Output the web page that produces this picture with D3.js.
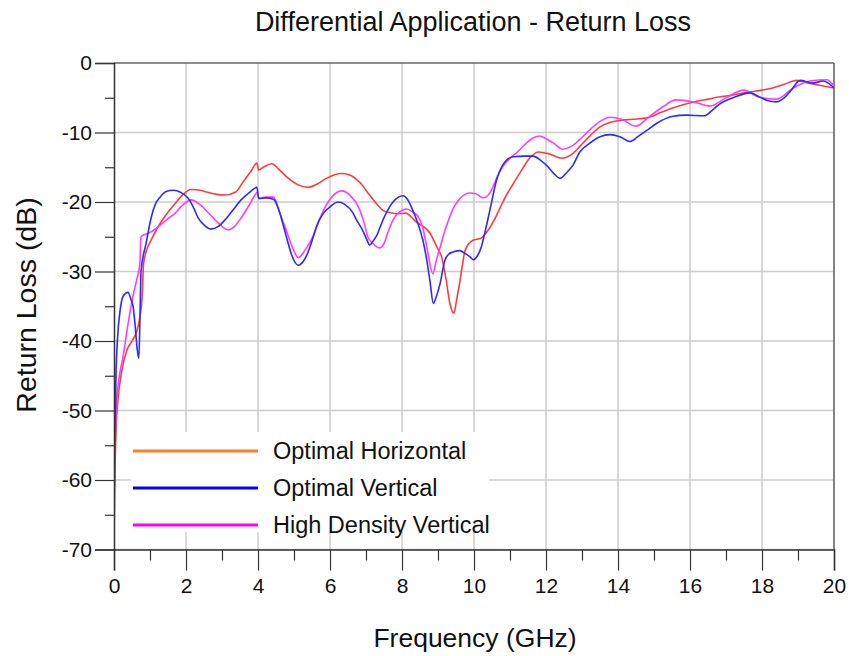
<!DOCTYPE html>
<html>
<head>
<meta charset="utf-8">
<script src="https://cdn.jsdelivr.net/npm/d3@7"></script>
<style>
  body { margin: 0; background: #fff; }
  svg { font-family: "Liberation Sans", Arial, sans-serif; }
</style>
</head>
<body>
<script>
const width = 849, height = 656;

// series: [frequency GHz, return loss dB]
const optimalHorizontal = [[0,-68.4],[0.03,-58],[0.06,-52.4],[0.11,-48.5],[0.22,-44.2],[0.36,-41.3],[0.5,-40],[0.64,-38.5],[0.72,-36.5],[0.78,-33.8],[0.82,-29],[0.89,-27.2],[1.03,-25.5],[1.22,-23.6],[1.45,-21.8],[1.7,-20.2],[1.9,-19],[2.14,-18.2],[2.4,-18.3],[2.6,-18.6],[2.85,-18.9],[3.08,-19],[3.37,-18.6],[3.6,-17],[3.8,-15.6],[3.97,-14.4],[4.02,-15.4],[4.15,-15],[4.38,-14.5],[4.6,-15.4],[4.8,-16.4],[5.1,-17.5],[5.4,-17.9],[5.65,-17.4],[5.9,-16.6],[6.3,-15.9],[6.55,-16.1],[6.83,-17.2],[7.1,-19],[7.3,-20.3],[7.47,-21.2],[7.65,-21.5],[7.85,-21.7],[8.1,-21.6],[8.4,-22.9],[8.78,-24.5],[8.97,-26.5],[9.1,-27.9],[9.22,-31],[9.33,-34.6],[9.44,-36],[9.52,-34],[9.6,-31.7],[9.68,-29],[9.75,-27],[9.97,-25.5],[10.2,-25.2],[10.4,-24],[10.6,-22.2],[10.85,-19.5],[11.1,-17.3],[11.35,-15.2],[11.56,-13.6],[11.8,-12.8],[12.1,-13.1],[12.44,-13.7],[12.75,-13],[12.94,-12],[13.2,-10.6],[13.5,-9.2],[13.75,-8.6],[14,-8.3],[14.4,-8.1],[14.8,-7.9],[15.2,-7.1],[15.5,-6.5],[16.1,-5.6],[16.5,-5.2],[16.8,-4.9],[17.2,-4.6],[17.6,-4.2],[18,-3.9],[18.3,-3.6],[18.6,-3.1],[18.97,-2.5],[19.3,-2.9],[19.7,-3.3],[20,-3.6]];

const optimalVertical = [[0,-64],[0.03,-52],[0.06,-44],[0.1,-39.5],[0.17,-35.6],[0.25,-33.6],[0.39,-33],[0.47,-34],[0.53,-35],[0.6,-38.5],[0.64,-41],[0.69,-42.5],[0.72,-37],[0.75,-30],[0.89,-26],[1.03,-22.3],[1.15,-20.3],[1.28,-19.3],[1.45,-18.5],[1.64,-18.3],[1.85,-18.6],[2.05,-19.4],[2.2,-20.7],[2.33,-22.2],[2.5,-23.3],[2.69,-23.9],[2.9,-23.5],[3.08,-22.6],[3.3,-21.2],[3.53,-19.7],[3.75,-18.7],[3.97,-17.9],[4.02,-19.5],[4.2,-19.4],[4.43,-19.6],[4.57,-21],[4.7,-23.3],[4.82,-25.6],[4.94,-27.7],[5.12,-29.1],[5.25,-28.6],[5.36,-27.6],[5.5,-25.6],[5.64,-23.3],[5.82,-21.6],[6,-20.7],[6.22,-20],[6.4,-20.3],[6.64,-21.6],[6.74,-22.6],[6.9,-24],[7.03,-25.5],[7.1,-26.2],[7.2,-25.6],[7.3,-24.8],[7.47,-22.6],[7.6,-21.2],[7.75,-20],[7.9,-19.3],[8.03,-19.1],[8.15,-19.6],[8.3,-21.2],[8.45,-23.2],[8.58,-25.5],[8.69,-28.4],[8.78,-31.5],[8.87,-34.6],[8.94,-33.8],[9.06,-31.7],[9.19,-28.4],[9.3,-27.5],[9.42,-27.2],[9.61,-27],[9.75,-27.4],[9.89,-27.9],[9.98,-28.3],[10.1,-27.7],[10.2,-26.5],[10.32,-24],[10.44,-21.2],[10.63,-16.8],[10.9,-14],[11.09,-13.5],[11.4,-13.4],[11.64,-13.4],[11.85,-14],[12.03,-14.8],[12.2,-15.8],[12.39,-16.6],[12.55,-15.9],[12.75,-14.7],[12.94,-12.8],[13.2,-11.6],[13.5,-10.6],[13.78,-10.3],[14.05,-10.6],[14.33,-11.3],[14.55,-10.6],[14.8,-9.7],[15.1,-8.6],[15.5,-7.7],[15.9,-7.5],[16.4,-7.6],[16.6,-6.9],[16.8,-6],[17.2,-5],[17.67,-4.3],[17.9,-4.8],[18.15,-5.4],[18.4,-5.6],[18.6,-5.1],[18.8,-4],[19.06,-2.5],[19.4,-2.9],[19.7,-2.6],[20,-3.6]];

const highDensityVertical = [[0,-63],[0.03,-55],[0.07,-49],[0.11,-46.6],[0.25,-42.3],[0.44,-36],[0.53,-33.5],[0.64,-31],[0.72,-28.8],[0.75,-25],[0.9,-24.6],[1.03,-24.3],[1.22,-23.6],[1.45,-22.6],[1.7,-21.6],[1.9,-20.5],[2.14,-19.7],[2.4,-20.4],[2.65,-21.7],[2.89,-23],[3.17,-24],[3.35,-23.5],[3.53,-22.3],[3.75,-20.5],[3.92,-19],[3.98,-18.6],[4.03,-19.5],[4.2,-19.3],[4.43,-19.3],[4.6,-21.5],[4.8,-24.3],[4.97,-26.7],[5.12,-28],[5.3,-27],[5.54,-24.8],[5.7,-22.6],[5.9,-20.4],[6.1,-19],[6.33,-18.4],[6.55,-19],[6.8,-20.8],[6.95,-23],[7.05,-25],[7.2,-26],[7.39,-26.6],[7.5,-26],[7.58,-24.8],[7.75,-22.6],[7.94,-21.4],[8.13,-21],[8.31,-21.5],[8.45,-22.1],[8.59,-24],[8.69,-26.5],[8.86,-30.3],[8.95,-28.5],[9.06,-26.5],[9.2,-24],[9.33,-22.1],[9.47,-20.5],[9.61,-19.5],[9.89,-18.7],[10.05,-18.8],[10.25,-19.4],[10.4,-19],[10.53,-17.8],[10.65,-16.3],[10.8,-14.9],[11,-13.7],[11.19,-12.9],[11.4,-11.8],[11.64,-10.8],[11.83,-10.5],[12,-10.9],[12.2,-11.5],[12.47,-12.4],[12.7,-12],[12.94,-11],[13.2,-9.7],[13.5,-8.4],[13.78,-7.8],[14.1,-8.1],[14.5,-9.1],[14.85,-7.8],[15.25,-6.3],[15.6,-5.3],[16.1,-5.6],[16.55,-6.2],[17,-5],[17.5,-3.9],[17.9,-4.9],[18.4,-5.2],[18.9,-3.5],[19.33,-2.6],[19.8,-2.4],[20,-3.3]];

const seriesNames = ["Optimal Horizontal", "Optimal Vertical", "High Density Vertical"];
const lineColors = ["#ff3c3c", "#2b2bff", "#ff3cff"];
const legendColors = ["#ff7f27", "#0000ff", "#ff00ff"];
const xTicks = d3.range(0, 21, 2);
const yTicks = d3.range(-70, 1, 10);

const pLeft = 114, pRight = 834, pTop = 63, pBottom = 549.5;

const x = d3.scaleLinear().domain([0, 20]).range([pLeft, pRight]);
const y = d3.scaleLinear().domain([-70, 0]).range([pBottom, pTop]);

const svg = d3.select("body").append("svg")
  .attr("width", width)
  .attr("height", height);

// grid
svg.append("g")
  .selectAll("line")
  .data(xTicks.slice(1))
  .join("line")
    .attr("x1", d => x(d)).attr("x2", d => x(d))
    .attr("y1", pTop).attr("y2", pBottom)
    .attr("stroke", "#cccccc").attr("stroke-width", 1.5);

svg.append("g")
  .selectAll("line")
  .data(yTicks.slice(0, -1))
  .join("line")
    .attr("x1", pLeft).attr("x2", pRight)
    .attr("y1", d => y(d)).attr("y2", d => y(d))
    .attr("stroke", "#cccccc").attr("stroke-width", 1.5);

// frame top / right
svg.append("line")
  .attr("x1", pLeft).attr("x2", pRight).attr("y1", pTop).attr("y2", pTop)
  .attr("stroke", "#666").attr("stroke-width", 1.5);
svg.append("line")
  .attr("x1", pRight).attr("x2", pRight).attr("y1", pTop).attr("y2", pBottom)
  .attr("stroke", "#666").attr("stroke-width", 1.5);

// curves
svg.append("clipPath").attr("id", "plot")
  .append("rect")
    .attr("x", pLeft).attr("y", pTop)
    .attr("width", pRight - pLeft).attr("height", pBottom - pTop);

const line = d3.line()
  .x(d => x(d[0]))
  .y(d => y(d[1]))
  .curve(d3.curveMonotoneX);

svg.append("g")
  .attr("clip-path", "url(#plot)")
  .selectAll("path")
  .data([optimalHorizontal, highDensityVertical, optimalVertical])
  .join("path")
    .attr("d", line)
    .attr("fill", "none")
    .attr("stroke", (d, i) => [lineColors[0], lineColors[2], lineColors[1]][i])
    .attr("stroke-width", 1.6)
    .attr("stroke-linejoin", "round");

// legend
const legend = svg.append("g");
legend.append("rect")
  .attr("x", 131).attr("y", 432)
  .attr("width", 358).attr("height", 100)
  .attr("fill", "#fff");

legend.selectAll("line")
  .data(seriesNames)
  .join("line")
    .attr("x1", 133).attr("x2", 258)
    .attr("y1", (d, i) => 451 + i * 37).attr("y2", (d, i) => 451 + i * 37)
    .attr("stroke", (d, i) => legendColors[i])
    .attr("stroke-width", 3);

legend.selectAll("text")
  .data(seriesNames)
  .join("text")
    .attr("x", 273)
    .attr("y", (d, i) => 459 + i * 37)
    .attr("font-size", 23.5)
    .attr("fill", "#111")
    .text(d => d);

// axes
const xAxis = svg.append("g")
  .attr("transform", `translate(0,${pBottom})`)
  .call(d3.axisBottom(x).tickValues(xTicks).tickSize(21).tickPadding(8).tickFormat(d => d));
xAxis.select(".domain").attr("stroke", "#333").attr("stroke-width", 1.5);
xAxis.selectAll(".tick line").attr("stroke", "#333").attr("stroke-width", 1.2);
xAxis.selectAll("text").attr("font-size", 21).attr("fill", "#111").attr("font-family", "Liberation Sans, Arial, sans-serif");

svg.append("g")
  .attr("transform", `translate(0,${pBottom})`)
  .call(d3.axisBottom(x).tickValues(d3.range(1, 20, 2)).tickSize(11).tickFormat(""))
  .call(g => g.select(".domain").remove())
  .selectAll("line").attr("stroke", "#333").attr("stroke-width", 1.2);

const yAxis = svg.append("g")
  .attr("transform", `translate(${pLeft},0)`)
  .call(d3.axisLeft(y).tickValues(yTicks).tickSize(19).tickPadding(3).tickFormat(d => d));
yAxis.select(".domain").attr("stroke", "#333").attr("stroke-width", 1.5);
yAxis.selectAll(".tick line").attr("stroke", "#333").attr("stroke-width", 1.2);
yAxis.selectAll("text").attr("font-size", 21).attr("fill", "#111").attr("font-family", "Liberation Sans, Arial, sans-serif");

svg.append("g")
  .attr("transform", `translate(${pLeft},0)`)
  .call(d3.axisLeft(y).tickValues(d3.range(-65, 0, 10)).tickSize(9).tickFormat(""))
  .call(g => g.select(".domain").remove())
  .selectAll("line").attr("stroke", "#333").attr("stroke-width", 1.2);

// titles
svg.append("text")
  .attr("x", 473).attr("y", 31)
  .attr("text-anchor", "middle")
  .attr("font-size", 27)
  .attr("fill", "#111")
  .text("Differential Application - Return Loss");

svg.append("text")
  .attr("x", 475).attr("y", 647)
  .attr("text-anchor", "middle")
  .attr("font-size", 26.5)
  .attr("fill", "#111")
  .text("Frequency (GHz)");

svg.append("text")
  .attr("transform", "translate(36,305) rotate(-90)")
  .attr("text-anchor", "middle")
  .attr("font-size", 28.5)
  .attr("fill", "#111")
  .text("Return Loss (dB)");
</script>
</body>
</html>
